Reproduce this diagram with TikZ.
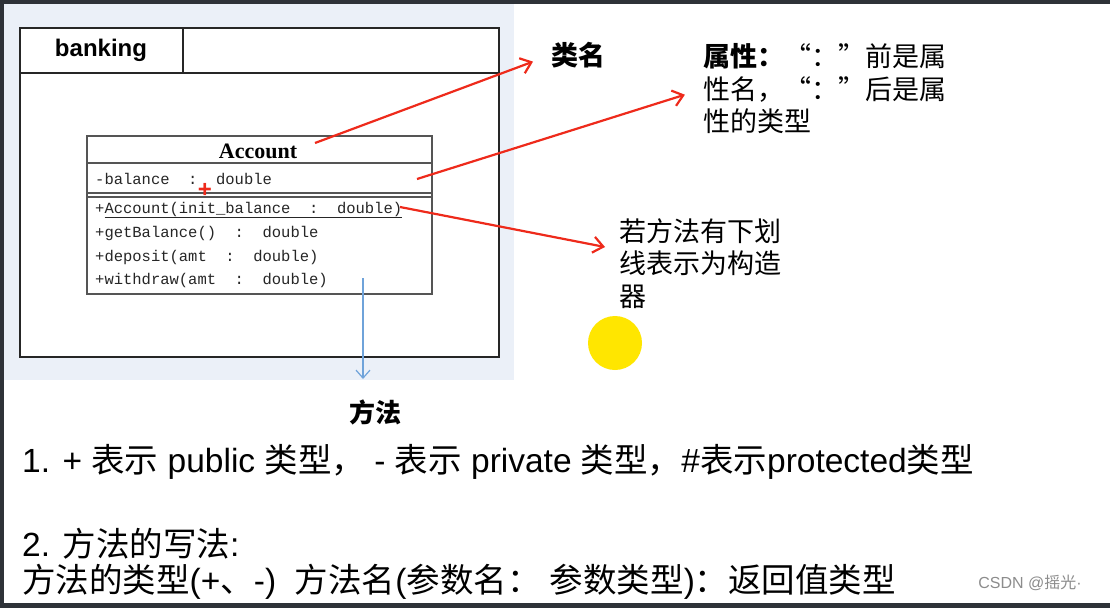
\documentclass[tikz,border=0pt]{standalone}
\usepackage{fontspec}
\setmainfont{Liberation Sans}
\newfontfamily\cjk{Noto Sans CJK SC}
\newfontfamily\mono{Liberation Mono}
\newfontfamily\serifb{Liberation Serif}
\usetikzlibrary{calc, positioning}
\usetikzlibrary{arrows.meta}

\definecolor{frameDark}{HTML}{2E3238}
\definecolor{paneBlue}{HTML}{EBF0F8}
\definecolor{noteRed}{HTML}{EE2A1B}
\definecolor{downBlue}{HTML}{6FA3DA}
\definecolor{sunYellow}{HTML}{FFE600}
\definecolor{umlGray}{HTML}{555555}

\newcommand{\zh}[1]{{\cjk #1}}

\begin{document}
\begin{tikzpicture}[x=1pt, y=-1pt,
  note/.style={-{Straight Barb[length=10pt, width=16pt]}, noteRed, line width=2.2pt},
  member/.style={anchor=west, inner sep=0pt, text=black!85,
    font=\mono\fontsize{15.5}{15.5}\selectfont},
  cn/.style={inner sep=0pt, align=left, font=\cjk\fontsize{27}{32.5}\selectfont},
  rule/.style={anchor=west, inner sep=0pt, font=\fontsize{33.5}{33.5}\selectfont,
    text height=0.8em, text depth=0.2em}]
\useasboundingbox (0,0) rectangle (1110,608);

\fill[frameDark] (0,0) rectangle (1110,608);
\fill[white] (4,4) rectangle (1110,603);
\fill[paneBlue] (4,4) rectangle (514,380);

% package banking
\fill[white] (20,28) rectangle (499,357);
\draw[line width=1.6pt, black!85] (20,28) rectangle (499,357);
\draw[line width=1.6pt, black!85] (20,73) -- (499,73);
\draw[line width=1.2pt, black!85] (183,28) -- (183,73);
\node[font=\bfseries\fontsize{24}{24}\selectfont] (pkg) at (101,50) {banking};

% class Account
\draw[umlGray, line width=1.3pt] (87,136) rectangle (432,294);
\draw[umlGray, line width=1.3pt] (87,163) -- (432,163);
\draw[umlGray, line width=1.1pt] (87,193) -- (432,193);
\draw[umlGray, line width=1.1pt] (87,197) -- (432,197);
\node[font=\serifb\bfseries\fontsize{22}{22}\selectfont] (clsName) at (258,151) {Account};

\node[member] (attrBal) at (95,179) {-balance~~:~~double};
\node[member] (opCtor) at (95,210) {+\underline{Account(init\_balance~~:~~double)}};
\node[member] (opGet) at (95,233) {+getBalance()~~:~~double};
\node[member] (opDep) at (95,257) {+deposit(amt~~:~~double)};
\node[member] (opWd) at (95,280) {+withdraw(amt~~:~~double)};
\node[text=noteRed, inner sep=0pt, font=\bfseries\fontsize{24}{24}\selectfont] (plusMark) at (205,190) {+};

% notes
\node[inner sep=0pt, font=\cjk\bfseries\fontsize{27}{27}\selectfont] (clsLbl) at (578,55) {类名};
\node[cn, anchor=west] (attrLbl) at (703,89) {{\bfseries 属性：}“：”前是属\\性名，“：”后是属\\性的类型};
\node[cn, anchor=north west] (ctorLbl) at (619,218) {若方法有下划\\线表示为构造\\器};
\node[inner sep=0pt, font=\cjk\bfseries\fontsize{26}{26}\selectfont] (methLbl) at (375,412) {方法};
\fill[sunYellow] (615,343) circle (27pt);

\coordinate (tailName) at (315,143);
\coordinate (tailAttr) at (417,179);
\coordinate (tailCtor) at (400,207);
\coordinate (tipCtor) at (605,247);
\coordinate (tailMeth) at (363,278);
\coordinate (tipMeth) at (363,379);

\draw[note, shorten >=19pt] (tailName) -- (clsLbl.west);
\draw[note, shorten >=19pt] (tailAttr) -- (attrLbl.west);
\draw[note] (tailCtor) -- (tipCtor);
\draw[-{Straight Barb[length=8pt, width=14pt]}, downBlue, line width=1.2pt] (tailMeth) -- (tipMeth);

% rules below
\node[rule] (ruleOne) at (22,469) {1. + \zh{表示} public \zh{类型，}\ - \zh{表示} private \zh{类型，}\#\zh{表示}protected\zh{类型}};
\node[rule] (ruleTwo) at (22,553) {2. \zh{方法的写法}:};
\node[rule] (ruleThree) at (22,589) {\zh{方法的类型}(+\zh{、}-)\ \ \zh{方法名}(\zh{参数名：}\ \zh{参数类型})\zh{：返回值类型}};
\node[text=black!45, inner sep=0pt, font=\fontsize{16}{16}\selectfont] (credit) at (1030,583) {CSDN @\zh{摇光}·};
\end{tikzpicture}
\end{document}
